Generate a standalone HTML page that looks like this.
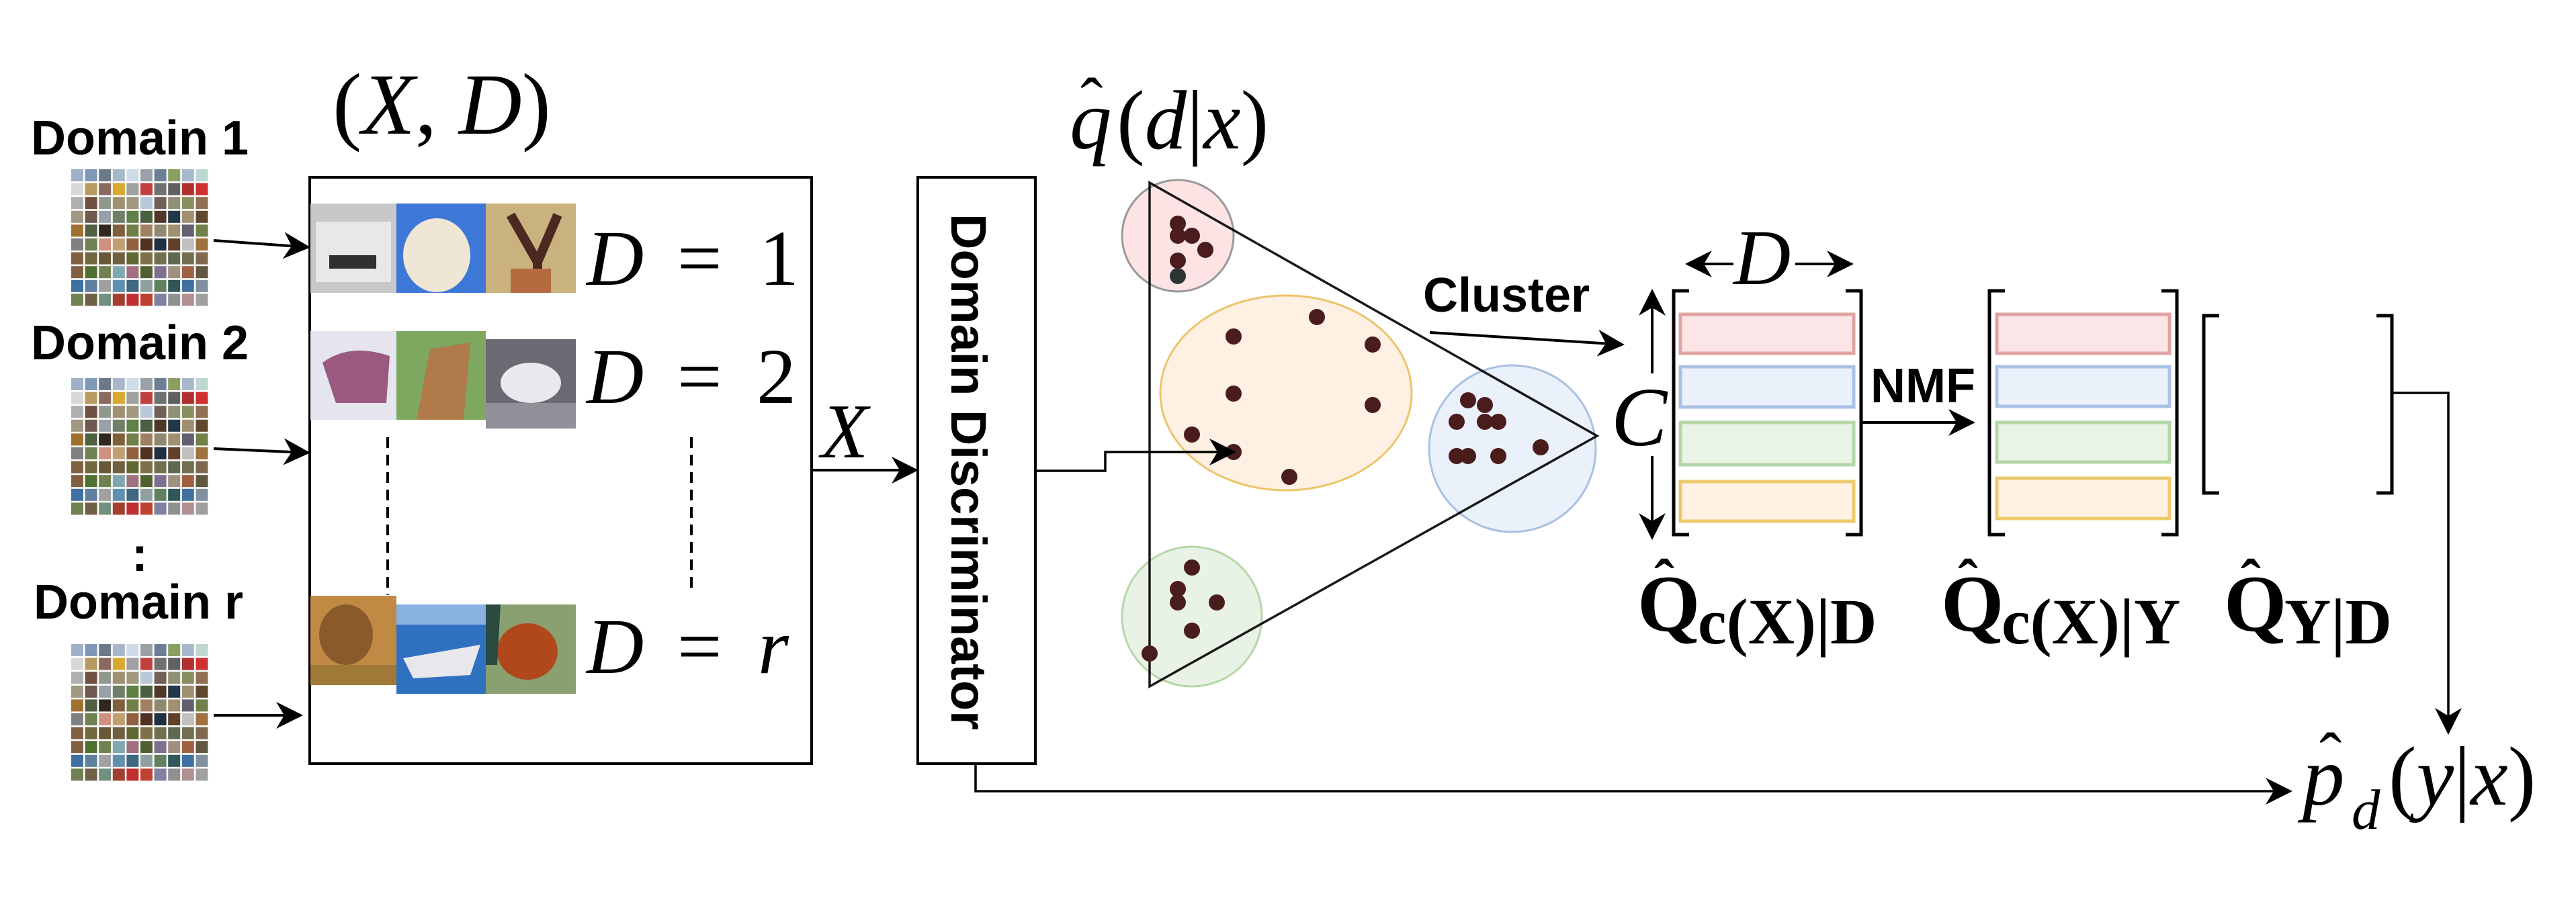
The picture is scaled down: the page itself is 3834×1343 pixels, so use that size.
<!DOCTYPE html>
<html><head><meta charset="utf-8"><style>
html,body{margin:0;padding:0;background:#fff;}
svg{display:block;}
.b{font-family:"Liberation Sans",sans-serif;font-weight:bold;}
.m{font-family:"Liberation Serif",serif;font-style:italic;}
.r{font-family:"Liberation Serif",serif;font-style:normal;}
.q{font-family:"Liberation Serif",serif;font-weight:bold;}
</style></head><body>
<svg width="3834" height="1343" viewBox="0 0 3834 1343" xmlns="http://www.w3.org/2000/svg">
<defs>
<marker id="a2" viewBox="0 0 10 10" refX="9" refY="5" markerWidth="40" markerHeight="40" markerUnits="userSpaceOnUse" orient="auto-start-reverse"><path d="M0,0 L10,5 L0,10 L3,5 z" fill="#000"/></marker>
</defs>
<rect width="3834" height="1343" fill="#fff"/>

<!-- Domain labels -->
<text class="b" x="46" y="230" font-size="72">Domain 1</text>
<text class="b" x="46" y="535" font-size="72">Domain 2</text>
<text class="b" x="50" y="921" font-size="72">Domain r</text>
<text class="b" x="196" y="850" font-size="72">:</text>

<!-- grids -->
<g id="g1" transform="translate(106,252)">
<rect x="0" y="0" width="18" height="18" fill="#9fb0c8"/><rect x="20.6" y="0" width="18" height="18" fill="#7f98b8"/><rect x="41.2" y="0" width="18" height="18" fill="#6c7a88"/><rect x="61.8" y="0" width="18" height="18" fill="#a9b8c8"/><rect x="82.4" y="0" width="18" height="18" fill="#cfdbe6"/><rect x="103" y="0" width="18" height="18" fill="#9aa0a6"/><rect x="123.6" y="0" width="18" height="18" fill="#6d7f96"/><rect x="144.2" y="0" width="18" height="18" fill="#8aa060"/><rect x="164.8" y="0" width="18" height="18" fill="#a8b8cc"/><rect x="185.4" y="0" width="18" height="18" fill="#bcd8d0"/>
<rect x="0" y="20.6" width="18" height="18" fill="#d8d8d8"/><rect x="20.6" y="20.6" width="18" height="18" fill="#b89a60"/><rect x="41.2" y="20.6" width="18" height="18" fill="#8a6a60"/><rect x="61.8" y="20.6" width="18" height="18" fill="#d8a830"/><rect x="82.4" y="20.6" width="18" height="18" fill="#a0a0a0"/><rect x="103" y="20.6" width="18" height="18" fill="#c04040"/><rect x="123.6" y="20.6" width="18" height="18" fill="#707070"/><rect x="144.2" y="20.6" width="18" height="18" fill="#606060"/><rect x="164.8" y="20.6" width="18" height="18" fill="#b03030"/><rect x="185.4" y="20.6" width="18" height="18" fill="#d03030"/>
<rect x="0" y="41.2" width="18" height="18" fill="#b0b0b0"/><rect x="20.6" y="41.2" width="18" height="18" fill="#705040"/><rect x="41.2" y="41.2" width="18" height="18" fill="#909890"/><rect x="61.8" y="41.2" width="18" height="18" fill="#a09070"/><rect x="82.4" y="41.2" width="18" height="18" fill="#a09880"/><rect x="103" y="41.2" width="18" height="18" fill="#b8c8d8"/><rect x="123.6" y="41.2" width="18" height="18" fill="#706058"/><rect x="144.2" y="41.2" width="18" height="18" fill="#909078"/><rect x="164.8" y="41.2" width="18" height="18" fill="#889060"/><rect x="185.4" y="41.2" width="18" height="18" fill="#907050"/>
<rect x="0" y="61.8" width="18" height="18" fill="#a09880"/><rect x="20.6" y="61.8" width="18" height="18" fill="#705850"/><rect x="41.2" y="61.8" width="18" height="18" fill="#98a0a8"/><rect x="61.8" y="61.8" width="18" height="18" fill="#708068"/><rect x="82.4" y="61.8" width="18" height="18" fill="#608048"/><rect x="103" y="61.8" width="18" height="18" fill="#4a6040"/><rect x="123.6" y="61.8" width="18" height="18" fill="#503828"/><rect x="144.2" y="61.8" width="18" height="18" fill="#203848"/><rect x="164.8" y="61.8" width="18" height="18" fill="#a09070"/><rect x="185.4" y="61.8" width="18" height="18" fill="#604830"/>
<rect x="0" y="82.4" width="18" height="18" fill="#a07030"/><rect x="20.6" y="82.4" width="18" height="18" fill="#506040"/><rect x="41.2" y="82.4" width="18" height="18" fill="#302820"/><rect x="61.8" y="82.4" width="18" height="18" fill="#80603a"/><rect x="82.4" y="82.4" width="18" height="18" fill="#708048"/><rect x="103" y="82.4" width="18" height="18" fill="#a08060"/><rect x="123.6" y="82.4" width="18" height="18" fill="#908870"/><rect x="144.2" y="82.4" width="18" height="18" fill="#a09070"/><rect x="164.8" y="82.4" width="18" height="18" fill="#606070"/><rect x="185.4" y="82.4" width="18" height="18" fill="#708048"/>
<rect x="0" y="103" width="18" height="18" fill="#808080"/><rect x="20.6" y="103" width="18" height="18" fill="#708050"/><rect x="41.2" y="103" width="18" height="18" fill="#d09080"/><rect x="61.8" y="103" width="18" height="18" fill="#c0a070"/><rect x="82.4" y="103" width="18" height="18" fill="#906040"/><rect x="103" y="103" width="18" height="18" fill="#503020"/><rect x="123.6" y="103" width="18" height="18" fill="#203040"/><rect x="144.2" y="103" width="18" height="18" fill="#604028"/><rect x="164.8" y="103" width="18" height="18" fill="#c0c0c0"/><rect x="185.4" y="103" width="18" height="18" fill="#a07040"/>
<rect x="0" y="123.6" width="18" height="18" fill="#806040"/><rect x="20.6" y="123.6" width="18" height="18" fill="#706840"/><rect x="41.2" y="123.6" width="18" height="18" fill="#685838"/><rect x="61.8" y="123.6" width="18" height="18" fill="#706040"/><rect x="82.4" y="123.6" width="18" height="18" fill="#606830"/><rect x="103" y="123.6" width="18" height="18" fill="#807048"/><rect x="123.6" y="123.6" width="18" height="18" fill="#707050"/><rect x="144.2" y="123.6" width="18" height="18" fill="#606850"/><rect x="164.8" y="123.6" width="18" height="18" fill="#707050"/><rect x="185.4" y="123.6" width="18" height="18" fill="#806850"/>
<rect x="0" y="144.2" width="18" height="18" fill="#806040"/><rect x="20.6" y="144.2" width="18" height="18" fill="#507030"/><rect x="41.2" y="144.2" width="18" height="18" fill="#708050"/><rect x="61.8" y="144.2" width="18" height="18" fill="#80a8b0"/><rect x="82.4" y="144.2" width="18" height="18" fill="#a07080"/><rect x="103" y="144.2" width="18" height="18" fill="#506030"/><rect x="123.6" y="144.2" width="18" height="18" fill="#807090"/><rect x="144.2" y="144.2" width="18" height="18" fill="#a09080"/><rect x="164.8" y="144.2" width="18" height="18" fill="#a06040"/><rect x="185.4" y="144.2" width="18" height="18" fill="#605840"/>
<rect x="0" y="164.8" width="18" height="18" fill="#4070a0"/><rect x="20.6" y="164.8" width="18" height="18" fill="#6080a0"/><rect x="41.2" y="164.8" width="18" height="18" fill="#a0a0a0"/><rect x="61.8" y="164.8" width="18" height="18" fill="#6090b0"/><rect x="82.4" y="164.8" width="18" height="18" fill="#406880"/><rect x="103" y="164.8" width="18" height="18" fill="#90a0a0"/><rect x="123.6" y="164.8" width="18" height="18" fill="#608060"/><rect x="144.2" y="164.8" width="18" height="18" fill="#305858"/><rect x="164.8" y="164.8" width="18" height="18" fill="#4070a0"/><rect x="185.4" y="164.8" width="18" height="18" fill="#8090a0"/>
<rect x="0" y="185.4" width="18" height="18" fill="#708050"/><rect x="20.6" y="185.4" width="18" height="18" fill="#706048"/><rect x="41.2" y="185.4" width="18" height="18" fill="#709080"/><rect x="61.8" y="185.4" width="18" height="18" fill="#a04030"/><rect x="82.4" y="185.4" width="18" height="18" fill="#c03030"/><rect x="103" y="185.4" width="18" height="18" fill="#c04030"/><rect x="123.6" y="185.4" width="18" height="18" fill="#8080a0"/><rect x="144.2" y="185.4" width="18" height="18" fill="#909090"/><rect x="164.8" y="185.4" width="18" height="18" fill="#b09090"/><rect x="185.4" y="185.4" width="18" height="18" fill="#a0a0a0"/>
</g>
<use href="#g1" transform="translate(0,311)"/>
<use href="#g1" transform="translate(0,707)"/>

<!-- input arrows -->
<g stroke="#000" stroke-width="4" fill="none" marker-end="url(#a2)">
<line x1="318" y1="358" x2="458" y2="368"/>
<line x1="318" y1="668" x2="458" y2="674"/>
<line x1="318" y1="1065" x2="447" y2="1065"/>
</g>

<!-- main box -->
<rect x="461" y="264" width="747" height="873" fill="none" stroke="#000" stroke-width="4"/>
<text class="r" x="495" y="199" font-size="130">(<tspan class="m">X</tspan>, <tspan class="m">D</tspan>)</text>

<!-- images row 1 -->
<rect x="462" y="303" width="128" height="133" fill="#c8c8c8"/>
<rect x="470" y="330" width="112" height="90" fill="#e8e8e8"/>
<rect x="490" y="380" width="70" height="20" fill="#303030"/>
<rect x="590" y="303" width="133" height="133" fill="#3d78d8"/>
<ellipse cx="650" cy="380" rx="50" ry="55" fill="#efe6d6"/>
<rect x="723" y="303" width="134" height="133" fill="#c9b27e"/>
<path d="M760 320 L800 390 L830 320 M800 390 L800 436" stroke="#4a2a20" stroke-width="14" fill="none"/>
<rect x="760" y="400" width="60" height="36" fill="#b56a40"/>
<!-- row 2 -->
<rect x="462" y="493" width="128" height="132" fill="#e6e4ee"/>
<path d="M480 540 Q520 510 580 530 L575 600 L500 600 Z" fill="#9a5a80"/>
<rect x="590" y="493" width="133" height="132" fill="#7ea860"/>
<path d="M640 520 L700 510 L690 625 L620 625 Z" fill="#b07a4a"/>
<rect x="723" y="505" width="134" height="133" fill="#6a6a72"/>
<ellipse cx="790" cy="570" rx="45" ry="30" fill="#e8e8ee"/>
<rect x="723" y="600" width="134" height="38" fill="#909098"/>
<!-- dashed -->
<line x1="577" y1="651" x2="577" y2="886" stroke="#000" stroke-width="4" stroke-dasharray="16,10"/>
<line x1="1029" y1="651" x2="1029" y2="882" stroke="#000" stroke-width="4" stroke-dasharray="16,10"/>
<!-- row r -->
<rect x="462" y="887" width="128" height="133" fill="#c08a44"/>
<ellipse cx="515" cy="945" rx="40" ry="45" fill="#8a5a2a"/>
<rect x="462" y="990" width="128" height="30" fill="#a07838"/>
<rect x="590" y="900" width="133" height="133" fill="#3070c0"/>
<rect x="590" y="900" width="133" height="30" fill="#88b0e0"/>
<path d="M600 980 L715 960 L700 1005 L615 1010 Z" fill="#e8e8ec"/>
<rect x="723" y="900" width="134" height="133" fill="#8aa070"/>
<ellipse cx="785" cy="970" rx="45" ry="42" fill="#b0481c"/>
<path d="M723 900 L745 900 L740 990 L723 990 Z" fill="#2a4a40"/>

<!-- D = labels -->
<g font-size="118">
<text class="m" x="873" y="424">D</text><text class="r" x="1008" y="424">=</text><text class="r" x="1130" y="424">1</text>
<text class="m" x="873" y="600">D</text><text class="r" x="1008" y="600">=</text><text class="r" x="1126" y="600">2</text>
<text class="m" x="873" y="1002">D</text><text class="r" x="1008" y="1002">=</text><text class="m" x="1128" y="1002">r</text>
</g>

<!-- X arrow -->
<text class="m" x="1222" y="681" font-size="115">X</text>
<line x1="1208" y1="700" x2="1363" y2="700" stroke="#000" stroke-width="4" marker-end="url(#a2)"/>

<!-- Domain discriminator -->
<rect x="1366" y="264" width="175" height="873" fill="none" stroke="#000" stroke-width="4"/>
<text class="b" font-size="74" transform="translate(1416,318) rotate(90)">Domain Discriminator</text>

<polyline points="1452,1137 1452,1178 3408,1178" fill="none" stroke="#000" stroke-width="3.5" marker-end="url(#a2)"/>

<!-- q hat -->
<text class="m" x="1592" y="221" font-size="125">q</text>
<text class="r" x="1608" y="185" font-size="100">ˆ</text>
<text class="r" x="1662" y="221" font-size="125">(<tspan class="m">d</tspan>|<tspan class="m">x</tspan>)</text>

<!-- ellipses -->
<circle cx="1753" cy="351" r="83" fill="#fde3e4" stroke="#999" stroke-width="3"/>
<ellipse cx="1914" cy="585" rx="187" ry="145" fill="#fef0e3" stroke="#ecc46a" stroke-width="3"/>
<circle cx="2251" cy="668" r="124" fill="#eaf1fb" stroke="#a9c0e3" stroke-width="3"/>
<circle cx="1774" cy="918" r="104" fill="#e8f3e6" stroke="#b6d7a8" stroke-width="3"/>

<!-- triangle -->
<polygon points="1711,272 2377,649 1711,1022" fill="none" stroke="#000" stroke-width="3.5" stroke-opacity="0.9"/>

<!-- dots -->
<g fill="#4a1c1c">
<circle cx="1753" cy="333" r="12"/><circle cx="1753" cy="351" r="12"/><circle cx="1774" cy="351" r="12"/><circle cx="1794" cy="372" r="12"/><circle cx="1753" cy="388" r="12"/>
<circle cx="1960" cy="472" r="12"/><circle cx="1836" cy="501" r="12"/><circle cx="2043" cy="513" r="12"/><circle cx="1836" cy="586" r="12"/><circle cx="2043" cy="603" r="12"/><circle cx="1774" cy="647" r="12"/><circle cx="1836" cy="673" r="12"/><circle cx="1919" cy="710" r="12"/>
<circle cx="2185" cy="596" r="12"/><circle cx="2210" cy="603" r="12"/><circle cx="2168" cy="628" r="12"/><circle cx="2210" cy="628" r="12"/><circle cx="2230" cy="628" r="12"/><circle cx="2168" cy="679" r="12"/><circle cx="2185" cy="679" r="12"/><circle cx="2230" cy="679" r="12"/><circle cx="2293" cy="666" r="12"/>
<circle cx="1774" cy="845" r="12"/><circle cx="1753" cy="877" r="12"/><circle cx="1753" cy="897" r="12"/><circle cx="1811" cy="897" r="12"/><circle cx="1774" cy="939" r="12"/><circle cx="1711" cy="973" r="12"/>
</g>
<circle cx="1753" cy="411" r="12" fill="#2d3436"/>

<!-- disc output (drawn over ellipse) -->
<polyline points="1541,701 1645,701 1645,673 1836,673" fill="none" stroke="#000" stroke-width="3.5" marker-end="url(#a2)"/>

<!-- cluster -->
<text class="b" x="2118" y="464" font-size="72">Cluster</text>
<line x1="2128" y1="495" x2="2414" y2="513" stroke="#000" stroke-width="4" marker-end="url(#a2)"/>

<!-- D arrow -->
<text class="m" x="2580" y="423" font-size="118">D</text>
<line x1="2580" y1="393" x2="2512" y2="393" stroke="#000" stroke-width="4" marker-end="url(#a2)"/>
<line x1="2672" y1="393" x2="2755" y2="393" stroke="#000" stroke-width="4" marker-end="url(#a2)"/>
<!-- C arrow -->
<text class="m" x="2398" y="663" font-size="125">C</text>
<line x1="2459" y1="556" x2="2459" y2="434" stroke="#000" stroke-width="4" marker-end="url(#a2)"/>
<line x1="2459" y1="679" x2="2459" y2="800" stroke="#000" stroke-width="4" marker-end="url(#a2)"/>

<!-- brackets -->
<g fill="none" stroke="#000" stroke-width="5">
<polyline points="2514,433 2491,433 2491,796 2514,796"/>
<polyline points="2747,433 2770,433 2770,796 2747,796"/>
<polyline points="2984,433 2961,433 2961,796 2984,796"/>
<polyline points="3217,433 3240,433 3240,796 3217,796"/>
<polyline points="3303,470 3280,470 3280,734 3303,734"/>
<polyline points="3537,470 3560,470 3560,734 3537,734"/>
</g>
<g stroke-width="5">
<rect x="2501" y="468" width="258" height="58" fill="#fbe5e6" stroke="#e0a3a3"/>
<rect x="2501" y="546" width="258" height="60" fill="#eaf1fb" stroke="#a9c1e4"/>
<rect x="2501" y="629" width="258" height="63" fill="#e9f3e6" stroke="#b5d6a8"/>
<rect x="2501" y="717" width="258" height="59" fill="#fff1e3" stroke="#edc96c"/>
<rect x="2972" y="468" width="257" height="58" fill="#fbe5e6" stroke="#e0a3a3"/>
<rect x="2972" y="546" width="257" height="59" fill="#eaf1fb" stroke="#a9c1e4"/>
<rect x="2972" y="629" width="257" height="59" fill="#e9f3e6" stroke="#b5d6a8"/>
<rect x="2972" y="712" width="257" height="60" fill="#fff1e3" stroke="#edc96c"/>
</g>

<!-- NMF -->
<text class="b" x="2784" y="599" font-size="72">NMF</text>
<line x1="2770" y1="629" x2="2936" y2="629" stroke="#000" stroke-width="4" marker-end="url(#a2)"/>

<polyline points="3560,585 3644,585 3644,1090" fill="none" stroke="#000" stroke-width="3.5" marker-end="url(#a2)"/>

<!-- Q labels -->
<g>
<text class="q" x="2437" y="939" font-size="120">Q</text><text class="q" x="2462" y="895" font-size="90">ˆ</text>
<text class="q" x="2527" y="958" font-size="96">c(X)|D</text>
<text class="q" x="2889" y="939" font-size="120">Q</text><text class="q" x="2914" y="895" font-size="90">ˆ</text>
<text class="q" x="2979" y="958" font-size="96">c(X)|Y</text>
<text class="q" x="3310" y="939" font-size="120">Q</text><text class="q" x="3335" y="895" font-size="90">ˆ</text>
<text class="q" x="3400" y="958" font-size="96">Y|D</text>
</g>

<!-- p hat -->
<text class="m" x="3427" y="1198" font-size="125">p</text>
<text class="r" x="3452" y="1160" font-size="100">ˆ</text>
<text class="m" x="3500" y="1234" font-size="85">d</text>
<text class="r" x="3555" y="1198" font-size="125">(<tspan class="m">y</tspan>|<tspan class="m">x</tspan>)</text>
</svg>
</body></html>
